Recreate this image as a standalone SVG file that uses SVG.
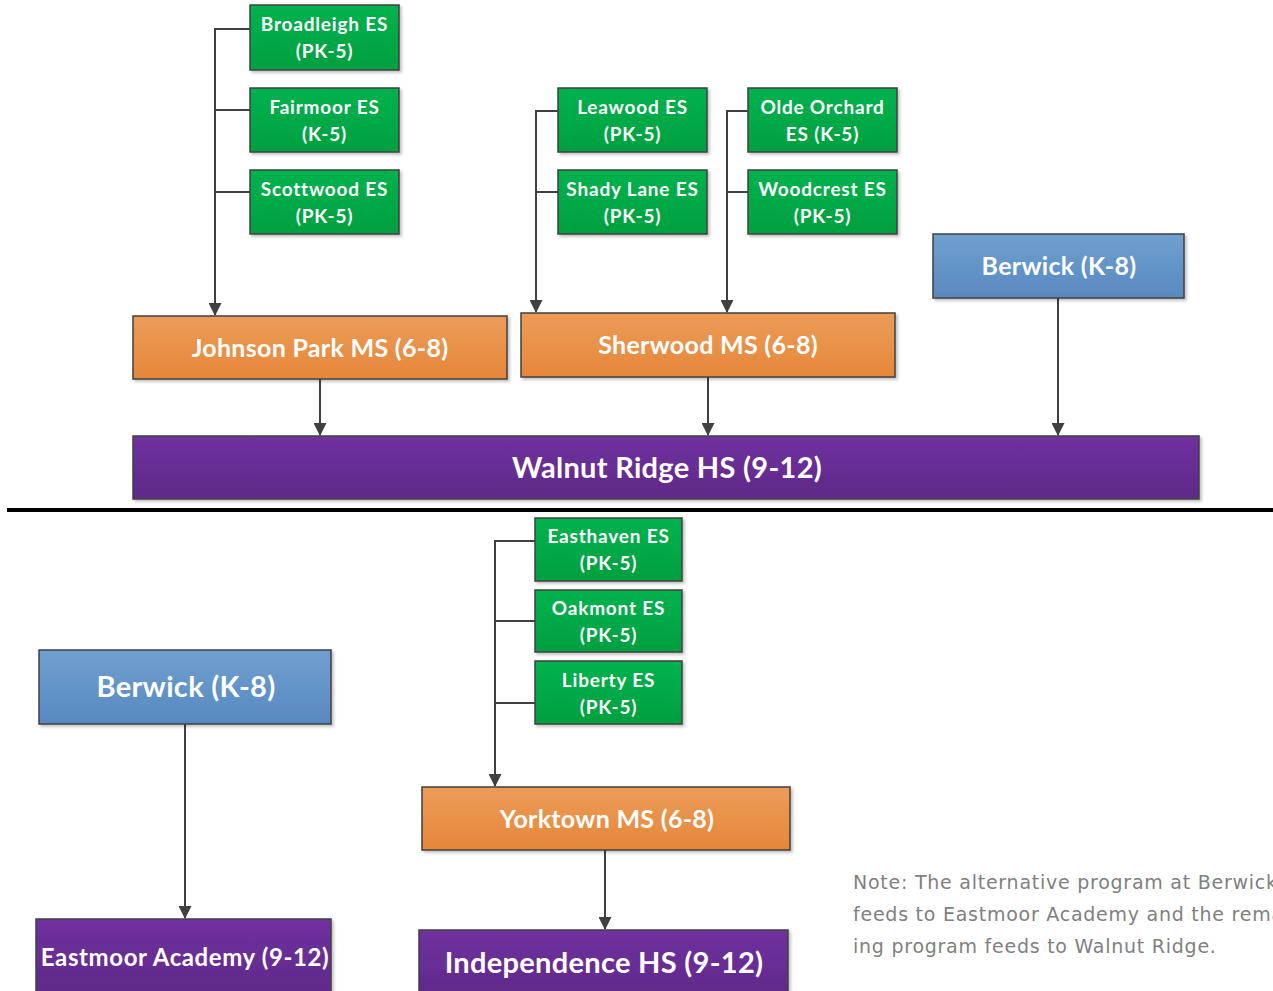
<svg xmlns="http://www.w3.org/2000/svg" width="1273" height="991" viewBox="0 0 1273 991">
<defs>
<linearGradient id="gG" x1="0" y1="0" x2="0" y2="1"><stop offset="0" stop-color="#00b24f"/><stop offset="1" stop-color="#00a03f"/></linearGradient>
<linearGradient id="gO" x1="0" y1="0" x2="0" y2="1"><stop offset="0" stop-color="#ec9c58"/><stop offset="1" stop-color="#e5873a"/></linearGradient>
<linearGradient id="gP" x1="0" y1="0" x2="0" y2="1"><stop offset="0" stop-color="#7030a0"/><stop offset="1" stop-color="#5f2a87"/></linearGradient>
<linearGradient id="gB" x1="0" y1="0" x2="0" y2="1"><stop offset="0" stop-color="#6fa0cf"/><stop offset="1" stop-color="#5889c0"/></linearGradient>
<filter id="sh" x="-5%" y="-10%" width="110%" height="130%"><feDropShadow dx="2" dy="2" stdDeviation="1.5" flood-color="#000" flood-opacity="0.25"/></filter>
<marker id="arr" markerWidth="13" markerHeight="13" refX="12" refY="6.5" orient="auto" markerUnits="userSpaceOnUse"><path d="M0,0 L13,6.5 L0,13 Z" fill="#404040"/></marker>
</defs>
<style>
rect{stroke:#404040;stroke-width:1.5;filter:url(#sh)}
.g{fill:url(#gG)} .o{fill:url(#gO)} .p{fill:url(#gP)} .b{fill:url(#gB)}
text{font-family:Lato,"Liberation Sans",sans-serif;font-weight:bold;fill:#fff;text-anchor:middle}
.s{font-size:19px;letter-spacing:0.8px}
.m{font-size:25px;letter-spacing:0.3px}
.l{font-size:29px;letter-spacing:0.3px}
.c line,.c path{stroke:#404040;stroke-width:2;fill:none}
.note{font-family:"DejaVu Sans","Liberation Sans",sans-serif;font-weight:normal;fill:#808080;text-anchor:start;font-size:19px;letter-spacing:0.75px}
</style>
<rect x="0" y="0" width="1273" height="991" fill="#fff" style="stroke:none;filter:none"/>
<g class="c" id="connectors">
<path d="M250,29 H215 V315" marker-end="url(#arr)"/>
<line x1="215" y1="110" x2="250" y2="110"/>
<line x1="215" y1="192" x2="250" y2="192"/>
<path d="M558,111 H536 V312" marker-end="url(#arr)"/>
<line x1="536" y1="192" x2="558" y2="192"/>
<path d="M748,111 H727 V312" marker-end="url(#arr)"/>
<line x1="727" y1="192" x2="748" y2="192"/>
<line x1="320" y1="379" x2="320" y2="435" marker-end="url(#arr)"/>
<line x1="708" y1="377" x2="708" y2="435" marker-end="url(#arr)"/>
<line x1="1058" y1="298" x2="1058" y2="435" marker-end="url(#arr)"/>
<path d="M535,541 H495 V786" marker-end="url(#arr)"/>
<line x1="495" y1="621" x2="535" y2="621"/>
<line x1="495" y1="703" x2="535" y2="703"/>
<line x1="605" y1="850" x2="605" y2="929" marker-end="url(#arr)"/>
<line x1="185" y1="724" x2="185" y2="918" marker-end="url(#arr)"/>
</g>
<line x1="7" y1="510" x2="1273" y2="510" stroke="#000" stroke-width="4"/>
<g id="broadleigh"><rect class="g" x="250" y="5" width="149" height="65"/><text class="s" x="324.5" y="31">Broadleigh ES</text><text class="s" x="324.5" y="58">(PK-5)</text></g>
<g id="fairmoor"><rect class="g" x="250" y="88" width="149" height="64"/><text class="s" x="324.5" y="114">Fairmoor ES</text><text class="s" x="324.5" y="141">(K-5)</text></g>
<g id="scottwood"><rect class="g" x="250" y="170" width="149" height="64"/><text class="s" x="324.5" y="196">Scottwood ES</text><text class="s" x="324.5" y="223">(PK-5)</text></g>
<g id="leawood"><rect class="g" x="558" y="88" width="149" height="64"/><text class="s" x="632.5" y="114">Leawood ES</text><text class="s" x="632.5" y="141">(PK-5)</text></g>
<g id="shadylane"><rect class="g" x="558" y="170" width="149" height="64"/><text class="s" x="632.5" y="196">Shady Lane ES</text><text class="s" x="632.5" y="223">(PK-5)</text></g>
<g id="oldeorchard"><rect class="g" x="748" y="88" width="149" height="64"/><text class="s" x="822.5" y="114">Olde Orchard</text><text class="s" x="822.5" y="141">ES (K-5)</text></g>
<g id="woodcrest"><rect class="g" x="748" y="170" width="149" height="64"/><text class="s" x="822.5" y="196">Woodcrest ES</text><text class="s" x="822.5" y="223">(PK-5)</text></g>
<g id="berwick1"><rect class="b" x="933" y="234" width="251" height="64"/><text class="m" x="1059" y="275">Berwick (K-8)</text></g>
<g id="johnsonpark"><rect class="o" x="133" y="316" width="374" height="63"/><text class="m" x="320" y="357">Johnson Park MS (6-8)</text></g>
<g id="sherwood"><rect class="o" x="521" y="313" width="374" height="64"/><text class="m" x="708" y="354">Sherwood MS (6-8)</text></g>
<g id="walnutridge"><rect class="p" x="133" y="436" width="1066" height="63"/><text class="l" x="667" y="478">Walnut Ridge HS (9-12)</text></g>
<g id="easthaven"><rect class="g" x="535" y="518" width="147" height="63"/><text class="s" x="608.5" y="543">Easthaven ES</text><text class="s" x="608.5" y="570">(PK-5)</text></g>
<g id="oakmont"><rect class="g" x="535" y="590" width="147" height="62"/><text class="s" x="608.5" y="615">Oakmont ES</text><text class="s" x="608.5" y="642">(PK-5)</text></g>
<g id="liberty"><rect class="g" x="535" y="661" width="147" height="63"/><text class="s" x="608.5" y="687">Liberty ES</text><text class="s" x="608.5" y="714">(PK-5)</text></g>
<g id="berwick2"><rect class="b" x="39" y="650" width="292" height="74"/><text class="l" x="186" y="697">Berwick (K-8)</text></g>
<g id="yorktown"><rect class="o" x="422" y="787" width="368" height="63"/><text class="m" x="607" y="828">Yorktown MS (6-8)</text></g>
<g id="eastmoor"><rect class="p" x="36" y="919" width="295" height="80"/><text x="185" y="966" style="font-size:24px;letter-spacing:0.6px">Eastmoor Academy (9-12)</text></g>
<g id="independence"><rect class="p" x="419" y="930" width="369" height="70"/><text class="l" x="604" y="973">Independence HS (9-12)</text></g>
<g id="note"><text class="note" x="853" y="889">Note: The alternative program at Berwick</text><text class="note" x="853" y="921">feeds to Eastmoor Academy and the remain-</text><text class="note" x="853" y="953">ing program feeds to Walnut Ridge.</text></g>
</svg>
